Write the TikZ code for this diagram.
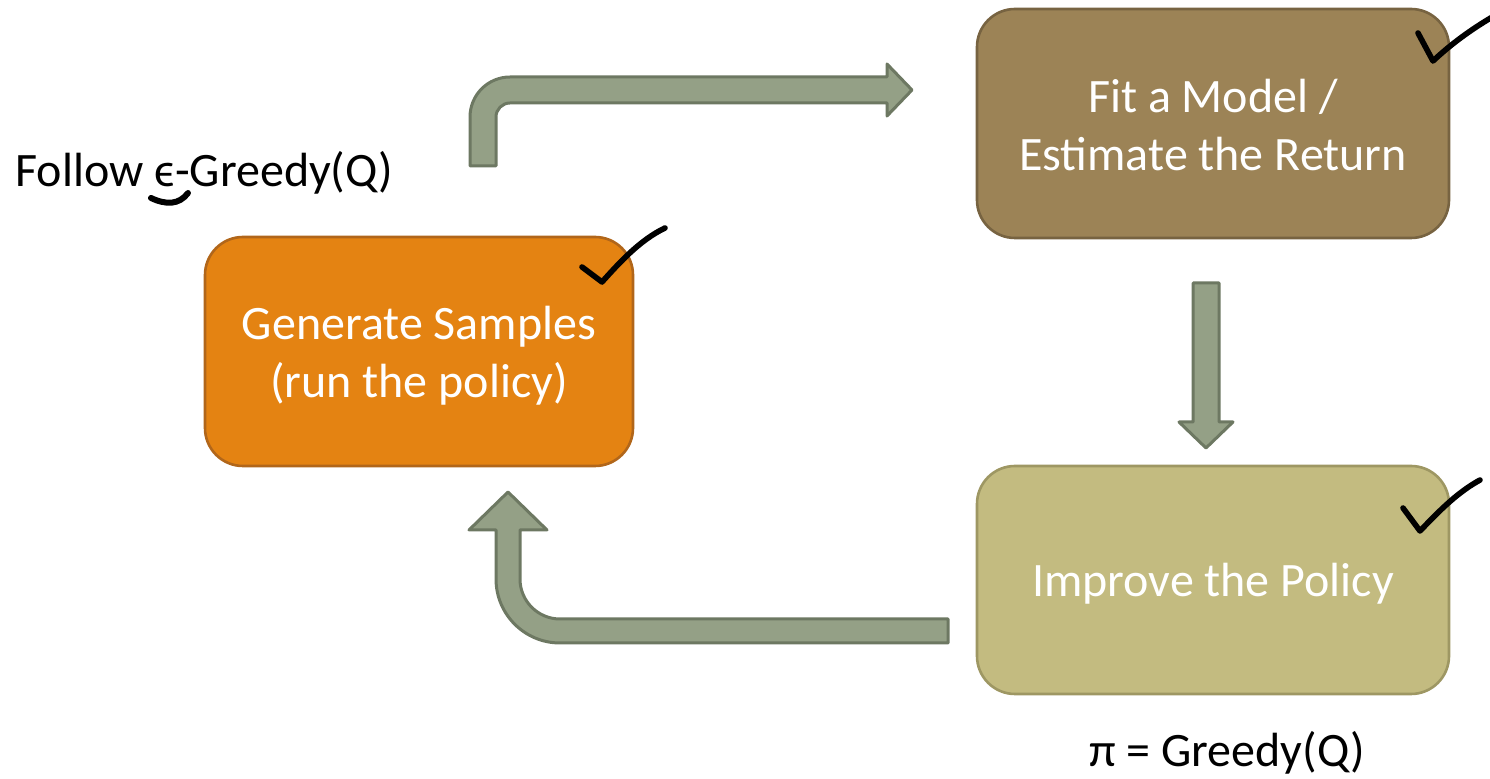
\documentclass[tikz,border=0pt]{standalone}
\usepackage{fontspec}
\setmainfont{Carlito}
\newfontfamily\symfont{DejaVu Sans}
\newcommand{\lunateps}{\iffontchar\font"03F5 ϵ\else{\symfont ϵ}\fi}
\definecolor{orangefill}{HTML}{E48312}
\definecolor{orangeline}{HTML}{B1661A}
\definecolor{brownfill}{HTML}{9C8356}
\definecolor{brownline}{HTML}{776341}
\definecolor{olivefill}{HTML}{C3BB80}
\definecolor{oliveline}{HTML}{9E9763}
\definecolor{arrowfill}{HTML}{94A086}
\definecolor{arrowline}{HTML}{6D7862}
\tikzset{
  stagebox/.style={rounded corners=19pt, line width=1.3pt, inner sep=0pt},
  stagetext/.style={text=white, align=center, font=\fontsize{24}{29}\selectfont, inner sep=0pt},
  blockarrow/.style={fill=arrowfill, draw=arrowline, line width=1.5pt, line join=round},
  tick/.style={draw=black, line width=2.8pt, line cap=round, line join=round},
  plain/.style={font=\fontsize{24}{29}\selectfont, inner sep=0pt, text=black},
}
\begin{document}
\begin{tikzpicture}[x=0.5pt, y=-0.5pt]
\useasboundingbox (0,0) rectangle (1490,779);

% the three stages of the loop
\node[stagebox, fill=orangefill, draw=orangeline, minimum width=214pt, minimum height=114.5pt]
  (gen) at (419,351.5) {};
\node[stagebox, fill=brownfill, draw=brownline, minimum width=236pt, minimum height=114.5pt]
  (fit) at (1213,123.5) {};
\node[stagebox, fill=olivefill, draw=oliveline, minimum width=236pt, minimum height=114pt]
  (imp) at (1213,580) {};
\node[stagetext] (gentext) at ([yshift=-2pt]gen.center) {Generate Samples\\(run the policy)};
\node[stagetext] (fittext) at ([yshift=-1pt]fit.center) {Fit a Model /\\Estimate the Return};
\node[stagetext] (imptext) at ([yshift=-2pt]imp.center) {Improve the Policy};

% side notes
\node[plain, anchor=west] (follow) at (15,173) {Follow \lunateps-Greedy(Q)};
\node[plain] (greedy) at (1227,753) {π = Greedy(Q)};

% block arrows between the stages
\draw[blockarrow] (470,166) -- (470,117) arc[start angle=180, end angle=270, radius=40]
  -- (887,77) -- (887,64) -- (912,90) -- (887,116) -- (887,103) -- (510,103)
  arc[start angle=270, end angle=180, radius=14] -- (496,166) -- cycle;
\draw[blockarrow] (1193,283) -- (1219,283) -- (1219,422) -- (1233,422) -- (1206,448)
  -- (1179,422) -- (1193,422) -- cycle;
\draw[blockarrow] (508,492) -- (547,530) -- (520,530) -- (520,579)
  arc[start angle=180, end angle=90, radius=40] -- (948,619) -- (948,643) -- (560,643)
  arc[start angle=90, end angle=180, radius=64] -- (496,530) -- (469,530) -- cycle;

% hand-drawn ticks and the underline mark
\draw[tick] (1418,33) -- (1433,61) .. controls (1450,45) and (1470,30) .. (1494,16);
\draw[tick] (582,267) -- (602,282) .. controls (620,262) and (640,240) .. (665,228);
\draw[tick] (1403,508) -- (1420,531) .. controls (1440,510) and (1458,492) .. (1480,480);
\draw[line width=3pt, line cap=round] (151,198) .. controls (166,205) and (179,205) .. (188,193);
\end{tikzpicture}
\end{document}
